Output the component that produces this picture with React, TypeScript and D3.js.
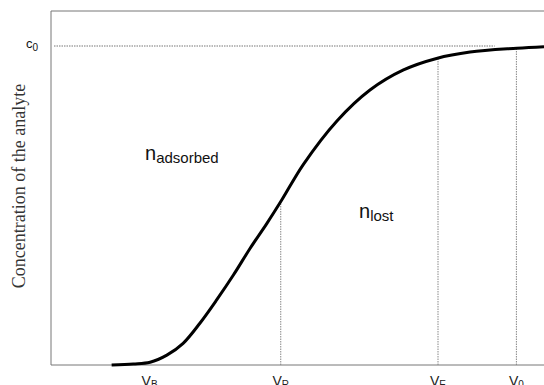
import React from "react";
import * as d3 from "d3";

const curveV = [12.3, 16.7, 20.1, 23.5, 26.8, 30.2, 33.6, 37.0, 40.4, 43.8, 46.8, 51.2, 58.0, 64.7, 71.5, 78.2, 85.0, 94.5, 100];
const curveC = [0.0, 0.003, 0.0085, 0.031, 0.068, 0.131, 0.204, 0.282, 0.366, 0.444, 0.517, 0.629, 0.765, 0.862, 0.925, 0.961, 0.981, 0.993, 0.998];
const markerNames = ["B", "R", "E", "0"];
const markerV = [20.0, 46.6, 78.5, 94.4];
const markerLine = [false, true, true, true];

const W = 544, H = 385;
const left = 51, top = 11, bottom = 365;

export default function App() {
  const x = d3.scaleLinear().domain([0, 100]).range([left, 544]);
  const y = d3.scaleLinear().domain([0, 1]).range([bottom, 46]);
  const pts: [number, number][] = curveV.map((v, i) => [v, curveC[i]]);
  const line = d3.line<[number, number]>().x(d => x(d[0])).y(d => y(d[1])).curve(d3.curveCatmullRom.alpha(0.5));
  const interp = (v: number) => {
    for (let i = 0; i < curveV.length - 1; i++) {
      if (v >= curveV[i] && v <= curveV[i + 1]) {
        const t = (v - curveV[i]) / (curveV[i + 1] - curveV[i]);
        return curveC[i] + t * (curveC[i + 1] - curveC[i]);
      }
    }
    return 1;
  };
  const sans = "'Liberation Sans', Arial, sans-serif";
  return (
    <svg width={W} height={H} style={{ position: "absolute", left: 0, top: 0 }}>
      <rect x={0} y={0} width={W} height={H} fill="#fff" />
      <line x1={left} y1={top} x2={W} y2={top} stroke="#777" strokeWidth={1} />
      <line x1={left} y1={top} x2={left} y2={bottom} stroke="#777" strokeWidth={1} />
      <line x1={left} y1={bottom} x2={W} y2={bottom} stroke="#777" strokeWidth={1} />
      <line x1={left + 3} y1={y(1)} x2={x(90)} y2={y(1)} stroke="#777" strokeWidth={1} strokeDasharray="1.5,1" />
      {markerV.map((v, i) => markerLine[i] ? (
        <line key={i} x1={x(v)} x2={x(v)} y1={bottom} y2={y(interp(v))} stroke="#888" strokeWidth={1} strokeDasharray="1.5,1" />
      ) : null)}
      <path d={line(pts) || ""} fill="none" stroke="#000" strokeWidth={3} />
      <text x={26} y={48} fontFamily={sans} fontSize={13} fill="#111">c<tspan fontSize={10} dy={3}>0</tspan></text>
      {markerV.map((v, i) => (
        <text key={i} x={x(v)} y={386} fontFamily={sans} fontSize={14} fill="#222" textAnchor="middle">V<tspan fontSize={10} dy={2}>{markerNames[i]}</tspan></text>
      ))}
      <text x={145} y={160} fontFamily={sans} fontSize={20} fill="#111">n<tspan fontSize={15} dy={3}>adsorbed</tspan></text>
      <text x={359} y={218} fontFamily={sans} fontSize={20} fill="#111">n<tspan fontSize={15} dy={3}>lost</tspan></text>
      <text transform={`translate(25,186) rotate(-90)`} fontFamily="'Liberation Serif', 'Times New Roman', serif" fontSize={18} fill="#333" textAnchor="middle">Concentration of the analyte</text>
    </svg>
  );
}
